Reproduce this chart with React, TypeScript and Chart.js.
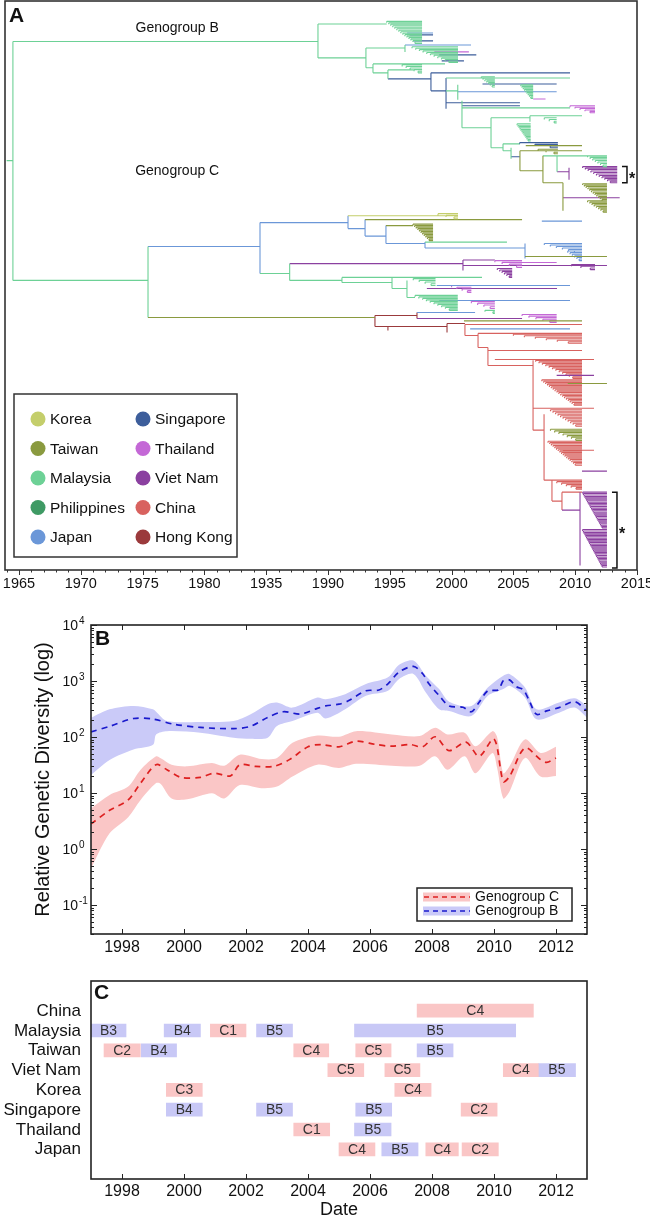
import React, { useEffect, useRef } from 'react';
import { Chart, registerables } from 'chart.js';
Chart.register(...registerables);

const FONT = '"Liberation Sans", Arial, Helvetica, sans-serif';
const INK = '#222';

// ================= Panel A : time-scaled tree =================
const countryNames = ['Korea', 'Taiwan', 'Malaysia', 'Philippines', 'Japan', 'Singapore', 'Thailand', 'Viet Nam', 'China', 'Hong Kong'];
const countryKeys = ['KR', 'TW', 'MY', 'PH', 'JP', 'SG', 'TH', 'VN', 'CN', 'HK'];
const countryColors = ['#c4ce6b', '#8a9a3f', '#6dd196', '#3f9a64', '#6b97d8', '#3d5e9b', '#c468d6', '#8b40a0', '#d8625f', '#9b3a3c'];

const treeTickYears = [1965, 1970, 1975, 1980, 1985, 1990, 1995, 2000, 2005, 2010, 2015];
const treeTickLabels = ['1965', '1970', '1975', '1980', '1935', '1990', '1995', '2000', '2005', '2010', '2015'];

// horizontal branches: [fromYear, toYear, row, country]
const treeH: [number, number, number, string][] = [
  [1964.0, 1964.51, 53.3, 'MY'], [1964.51, 1989.19, 13.5, 'MY'], [1964.51, 1975.44, 93.3, 'MY'],
  // Genogroup B
  [1989.19, 1994.75, 7.7, 'MY'], [1996.4, 1998.5, 10.7, 'JP'], [1996.6, 1998.5, 11.3, 'SG'], [1996.9, 1998.5, 13.3, 'SG'],
  [1989.19, 1993.07, 19, 'MY'], [1993.07, 1996.23, 15.7, 'MY'], [1996.23, 2001.57, 14.7, 'JP'],
  [1998.6, 2001.4, 17, 'TH'], [1999.0, 2002.0, 18, 'SG'], [1999.2, 2001.0, 20, 'SG'],
  [1993.07, 1993.64, 22.3, 'MY'], [1993.64, 1999.47, 21, 'MY'], [1993.64, 1994.85, 24, 'MY'],
  [1994.85, 1997.0, 23, 'MY'], [1994.85, 1998.33, 26, 'SG'], [1998.33, 2009.58, 24, 'SG'], [1998.33, 1999.55, 30, 'SG'],
  [1999.55, 2009.58, 25.7, 'MY'], [2002.5, 2008.5, 27.7, 'SG'], [1999.55, 2000.5, 30, 'MY'], [2000.5, 2008.5, 30.3, 'JP'],
  [2006.6, 2007.6, 32.7, 'TH'], [1999.55, 2005.53, 34, 'SG'], [2000.84, 2005.53, 35, 'SG'], [2000.84, 2009.58, 35.7, 'MY'],
  [2000.84, 2003.19, 42.3, 'MY'], [2003.19, 2006.34, 39, 'MY'], [2006.34, 2010.55, 38.3, 'MY'],
  [2003.19, 2004.16, 49, 'MY'], [2004.16, 2005.5, 47.7, 'MY'], [2006.0, 2010.55, 48.3, 'TW'],
  [2004.16, 2004.81, 50, 'MY'], [2004.81, 2005.53, 52, 'SG'], [2005.53, 2010.55, 50, 'TW'],
  [2005.53, 2007.39, 56.7, 'TW'], [2007.39, 2008.53, 51.7, 'MY'], [2008.53, 2011.0, 51.7, 'MY'],
  [2008.53, 2009.5, 57, 'VN'], [2007.39, 2009.01, 60.7, 'TW'], [2009.01, 2013.6, 65.7, 'VN'],
  // Genogroup C
  [1975.44, 1984.5, 82, 'JP'], [1984.5, 1991.62, 74, 'JP'], [1984.5, 1986.9, 91, 'MY'],
  [1986.9, 2000.92, 87.7, 'VN'], [1986.9, 1991.13, 93.3, 'MY'],
  [1991.62, 2000.52, 71.7, 'KR'], [1991.62, 1993.0, 76, 'JP'], [1993.0, 2005.7, 73, 'TW'], [2007.3, 2010.55, 73.5, 'JP'],
  [1993.0, 1994.69, 78.5, 'JP'], [1994.69, 1996.88, 75, 'TW'], [1994.69, 1997.85, 81, 'JP'],
  [1997.85, 2004.48, 80.5, 'MY'], [1997.85, 2005.94, 82.5, 'JP'], [2005.94, 2012.57, 85.3, 'TW'],
  [2000.92, 2003.5, 86.5, 'VN'], [2005.7, 2008.5, 87.3, 'TH'], [2000.92, 2012.57, 88.3, 'VN'],
  [1991.13, 2002.46, 92.3, 'MY'], [1991.13, 1995.18, 94, 'MY'], [1995.18, 1996.39, 96, 'MY'],
  [1998.0, 2008.53, 96, 'VN'], [1998.8, 2009.58, 95, 'JP'], [1999.0, 2009.58, 100, 'JP'],
  [1996.39, 1997.04, 99, 'MY'], [2001.6, 2007.56, 100, 'VN'],
  [1975.44, 1993.8, 105.7, 'TW'], [1993.8, 1997.2, 105, 'HK'], [1997.2, 2001.9, 104, 'JP'], [1997.2, 2005.7, 106, 'VN'],
  [1993.8, 1994.85, 108.7, 'HK'], [1994.85, 1999.63, 108.7, 'HK'], [1999.63, 2001.08, 107.7, 'HK'],
  [2001.0, 2010.55, 106.8, 'TW'], [2001.08, 2010.55, 108, 'CN'], [2001.5, 2009.58, 109.5, 'JP'],
  [2001.08, 2002.14, 111.7, 'CN'], [2002.14, 2010.55, 111, 'CN'], [2002.14, 2002.94, 115.7, 'CN'],
  [2002.94, 2010.55, 116.7, 'CN'], [2003.5, 2011.52, 119.7, 'CN'], [2002.94, 2006.59, 121.7, 'CN'],
  [2008.5, 2011.52, 125, 'VN'], [2009.4, 2012.57, 127.7, 'TW'], [2006.59, 2011.52, 136, 'CN'],
  [2006.59, 2007.48, 143.3, 'CN'], [2009.0, 2011.52, 150, 'CN'], [2010.55, 2012.57, 157, 'VN'],
  [2007.48, 2008.12, 160, 'CN'], [2008.12, 2008.93, 167, 'CN'], [2008.93, 2010.55, 164, 'CN'], [2008.93, 2010.39, 170, 'VN'],
];

// vertical connectors: [year, rowFrom, rowTo, country]
const treeV: [number, number, number, string][] = [
  [1964.51, 13.5, 93.3, 'MY'], [1989.19, 7.7, 19, 'MY'], [1993.07, 15.7, 22.3, 'MY'], [1996.23, 14.7, 17, 'MY'],
  [1993.64, 21, 24, 'MY'], [1994.85, 23, 26, 'MY'], [1998.33, 24, 30, 'SG'], [1999.55, 25.7, 36, 'SG'],
  [2000.5, 28, 33, 'MY'], [2000.84, 33.3, 42.3, 'MY'], [2003.19, 39, 49, 'MY'], [2006.34, 38.3, 40.3, 'MY'],
  [2004.16, 47.7, 50, 'MY'], [2004.81, 49, 52.7, 'MY'], [2005.53, 50, 56.7, 'TW'], [2007.39, 51.7, 60.7, 'TW'],
  [2008.53, 51.7, 57, 'MY'], [2009.5, 55.7, 59.7, 'VN'], [2009.01, 60.7, 70, 'TW'],
  [1975.44, 82, 105.7, 'MY'], [1984.5, 74, 91, 'JP'], [1986.9, 87.7, 93.3, 'MY'],
  [1991.62, 71.7, 76, 'JP'], [1993.0, 73, 78.5, 'JP'], [1994.69, 75, 81, 'JP'], [1997.85, 80.5, 82.5, 'JP'],
  [2005.94, 81, 86, 'JP'], [2000.92, 86.5, 90, 'VN'], [1991.13, 92.3, 94, 'MY'], [1995.18, 92.5, 96, 'MY'],
  [1996.39, 93.3, 99, 'MY'], [1993.8, 105, 108.7, 'HK'], [1997.2, 104, 106, 'HK'], [1994.85, 108.7, 110, 'HK'],
  [1999.63, 107.7, 110.7, 'HK'], [2001.08, 108, 111.7, 'CN'], [2002.14, 111, 115.7, 'CN'], [2002.94, 115.7, 121.7, 'CN'],
  [2006.59, 120, 143.3, 'CN'], [2007.48, 138, 160, 'CN'], [2008.12, 160, 167, 'CN'], [2008.93, 164, 170, 'CN'],
  [2010.39, 164, 188.5, 'VN'],
];

// dense sampled clades: [nodeYear, tipYear, rowFrom, rowTo, tips, country]
const treeFans: [number, number, number, number, number, string][] = [
  [1994.75, 1997.61, 6.8, 14.2, 16, 'MY'], [1996.8, 2000.52, 15.3, 20.5, 12, 'MY'], [1996.0, 1997.61, 21.3, 24, 6, 'MY'],
  [2002.4, 2003.5, 25.3, 28.7, 8, 'MY'], [2005.6, 2006.6, 28, 32.5, 10, 'MY'], [2009.58, 2011.6, 35, 37.3, 6, 'TH'],
  [2007.5, 2008.5, 39, 40.7, 4, 'MY'], [2005.3, 2006.4, 41, 46.7, 13, 'MY'], [2005.5, 2008.6, 47.3, 49, 4, 'SG'],
  [2007.0, 2008.6, 49.5, 51, 4, 'TW'], [2011.0, 2012.57, 51.7, 55.3, 8, 'MY'], [2010.6, 2013.4, 55.3, 60.7, 12, 'VN'],
  [2010.6, 2012.57, 61, 66.7, 13, 'TW'], [2011.0, 2012.57, 66.7, 70.5, 9, 'TW'],
  [1998.9, 2000.52, 71, 72.7, 4, 'KR'], [1996.88, 1998.5, 74.5, 80, 12, 'TW'], [2007.5, 2010.55, 81, 84, 7, 'JP'],
  [2009.4, 2010.55, 83.5, 86.7, 7, 'JP'], [2003.5, 2005.7, 86.7, 89, 5, 'TH'], [2009.7, 2011.6, 88, 89.7, 4, 'VN'],
  [2003.7, 2004.9, 89.3, 92.3, 7, 'VN'], [1996.9, 1998.7, 92.7, 95, 5, 'MY'], [2000.0, 2001.6, 95, 97.3, 5, 'TH'],
  [1997.04, 2000.5, 98.3, 103.3, 11, 'MY'], [2001.6, 2003.5, 100.3, 102.7, 5, 'TH'], [2002.7, 2003.5, 103.3, 104.3, 3, 'MY'],
  [2005.7, 2008.5, 104.7, 107.3, 6, 'TH'], [2005.0, 2010.55, 111.3, 114.3, 7, 'CN'], [2006.8, 2010.55, 120, 126, 13, 'CN'],
  [2007.3, 2010.55, 126.5, 135, 19, 'CN'], [2008.0, 2010.55, 136.5, 142, 12, 'CN'], [2008.0, 2010.55, 143, 146.7, 8, 'TW'],
  [2007.8, 2010.55, 147, 155, 18, 'CN'], [2008.12, 2010.55, 160, 163, 7, 'CN'],
  [2010.6, 2012.57, 164, 176, 26, 'VN'], [2010.6, 2012.57, 176.5, 189, 27, 'VN'],
];

const groupLabels = ['Genogroup B', 'Genogroup C'];
const groupLabelYear = [1977.8, 1977.8];
const groupLabelRow = [9, 56.7];

const bracketYear = [2014.19, 2013.38];
const bracketRowFrom = [55.3, 164];
const bracketRowTo = [60.7, 189.3];

// ================= Panel B : genetic diversity =================
const blueYears = [1997.0, 1997.6, 1998.37, 1999.0, 1999.65, 2000.53, 2001.6, 2002.15, 2002.7, 2003.2, 2003.76, 2004.3, 2004.57, 2005.0, 2005.3, 2005.87, 2006.29, 2006.58, 2006.94, 2007.4, 2007.7, 2007.9, 2008.23, 2008.55, 2009.0, 2009.27, 2009.52, 2009.8, 2010.14, 2010.3, 2010.5, 2010.72, 2010.95, 2011.14, 2011.37, 2011.7, 2012.1, 2012.6, 2013.0];
const blueMedian = [123, 155, 214, 209, 170, 148, 141, 155, 224, 282, 257, 324, 359, 385, 442, 668, 692, 891, 1445, 1820, 1349, 891, 550, 359, 339, 282, 417, 668, 692, 1012, 1047, 794, 692, 442, 254, 292, 335, 427, 292];
const blueBandYears = [1997.0, 1997.6, 1998.37, 1999.0, 1999.1, 1999.45, 2000.53, 2001.6, 2002.15, 2002.7, 2003.0, 2003.5, 2004.3, 2004.57, 2005.2, 2005.87, 2006.58, 2006.94, 2007.4, 2007.8, 2008.23, 2008.55, 2009.27, 2009.8, 2010.3, 2010.5, 2011.0, 2011.37, 2012.1, 2012.6, 2013.0];
const blueUpper = [221, 313, 359, 313, 282, 193, 186, 193, 254, 385, 412, 335, 507, 473, 582, 881, 1161, 1950, 2317, 1245, 716, 427, 359, 767, 1245, 1334, 767, 313, 412, 490, 359];
const blueLower = [21, 39, 60, 73, 111, 127, 119, 97, 93, 97, 157, 193, 272, 214, 313, 543, 668, 1084, 1334, 624, 313, 292, 237, 543, 716, 822, 507, 207, 272, 335, 221];

const redYears = [1997.0, 1997.6, 1998.2, 1998.6, 1999.1, 1999.45, 1999.9, 2000.53, 2000.97, 2001.5, 2001.8, 2002.3, 2002.9, 2003.4, 2004.0, 2004.4, 2005.0, 2005.55, 2006.2, 2006.7, 2007.3, 2007.7, 2008.1, 2008.55, 2009.1, 2009.52, 2010.0, 2010.3, 2010.5, 2011.0, 2011.5, 2011.7, 2012.0];
const redMedian = [2.8, 4.9, 7.5, 15, 32, 26, 19, 19, 22.6, 20.2, 32, 29.9, 29.9, 39.4, 66.7, 73.3, 66.7, 84.1, 73.3, 68.4, 73.3, 66.7, 101, 57.1, 80.7, 45.2, 92.7, 16, 19.7, 63.8, 39.4, 35.2, 42.2];
const redBandYears = [1997.0, 1997.6, 1998.2, 1998.6, 1999.1, 1999.25, 1999.6, 2000.1, 2000.9, 2001.3, 2001.8, 2002.5, 2003.0, 2003.5, 2004.3, 2005.0, 2005.55, 2006.7, 2007.6, 2008.1, 2008.5, 2009.05, 2009.4, 2009.95, 2010.1, 2010.3, 2010.5, 2011.0, 2011.5, 2012.0];
const redUpper = [5.3, 9.2, 13, 26, 45.2, 41.7, 32, 29.9, 34.3, 30.7, 48.4, 40.5, 42.2, 78.5, 106, 101, 127, 111, 104, 146, 111, 119, 68.4, 127, 100, 22.6, 29.9, 90.2, 51.9, 66.7];
const redLower = [0.45, 1.9, 3.7, 7.5, 15, 14.5, 8, 7.7, 9.9, 8, 13.9, 12.2, 13, 19.7, 32, 27.9, 33.1, 30.7, 30.7, 45.2, 26, 45.2, 22.6, 51.9, 28.2, 8, 10.6, 42.2, 19.7, 20.2];

const diversityExponents = [-1, 0, 1, 2, 3, 4];
const yearTicks = [1998, 2000, 2002, 2004, 2006, 2008, 2010, 2012];
const seriesNames = ['Genogroup C', 'Genogroup B'];

// ================= Panel C : circulation periods =================
const countryRows = ['China', 'Malaysia', 'Taiwan', 'Viet Nam', 'Korea', 'Singapore', 'Thailand', 'Japan'];
const periodCountry = ['China', 'Malaysia', 'Malaysia', 'Malaysia', 'Malaysia', 'Malaysia', 'Taiwan', 'Taiwan', 'Taiwan', 'Taiwan', 'Taiwan', 'Viet Nam', 'Viet Nam', 'Viet Nam', 'Viet Nam', 'Korea', 'Korea', 'Singapore', 'Singapore', 'Singapore', 'Singapore', 'Thailand', 'Thailand', 'Japan', 'Japan', 'Japan', 'Japan'];
const periodStart = [2007.52, 1997.0, 1999.36, 2000.85, 2002.34, 2005.5, 1997.42, 1998.62, 2003.54, 2005.54, 2007.52, 2004.64, 2006.48, 2010.3, 2011.43, 1999.43, 2006.8, 1999.43, 2002.34, 2005.54, 2008.94, 2003.54, 2005.5, 2005.0, 2006.38, 2007.8, 2008.97];
const periodEnd = [2011.27, 1998.13, 2000.53, 2002.0, 2003.5, 2010.7, 1998.59, 1999.76, 2004.67, 2006.68, 2008.68, 2005.8, 2007.61, 2011.43, 2012.63, 2000.59, 2007.97, 2000.59, 2003.5, 2006.7, 2010.1, 2004.7, 2006.68, 2006.16, 2007.55, 2008.85, 2010.14];
const periodLabel = ['C4', 'B3', 'B4', 'C1', 'B5', 'B5', 'C2', 'B4', 'C4', 'C5', 'B5', 'C5', 'C5', 'C4', 'B5', 'C3', 'C4', 'B4', 'B5', 'B5', 'C2', 'C1', 'B5', 'C4', 'B5', 'C4', 'C2'];

// ---------------- helpers ----------------
function colorOf(key: string) {
  return countryColors[countryKeys.indexOf(key)];
}

function buildTreeDatasets() {
  const pts: Record<string, any[]> = {};
  const seg = (c: string, x0: number, y0: number, x1: number, y1: number) => {
    (pts[c] = pts[c] || []).push({ x: x0, y: y0 }, { x: x1, y: y1 }, { x: x1, y: null });
  };
  treeH.forEach(([a, b, r, c]) => seg(c, a, r, b, r));
  treeV.forEach(([x, r0, r1, c]) => seg(c, x, r0, x, r1));
  treeFans.forEach(([x0, x1, r0, r1, n, c]) => {
    const rows = Array.from({ length: n }, (_, k) => r0 + ((r1 - r0) * k) / (n - 1));
    const starts = rows.map((_, k) => x0 + ((x1 - x0) * 0.8 * Math.min(k, n - 2)) / Math.max(n - 2, 1));
    for (let k = 0; k < n; k++) {
      seg(c, starts[k], rows[k], x1, rows[k]);
      if (k < n - 1) seg(c, starts[k], rows[k], starts[k], rows[k + 1]);
    }
  });
  return countryKeys
    .filter((k) => pts[k])
    .map((k) => ({
      data: pts[k],
      borderColor: colorOf(k),
      borderWidth: 1.1,
      pointRadius: 0,
      fill: false,
      spanGaps: false,
      tension: 0,
    }));
}

const treeDecor = {
  id: 'treeDecor',
  afterDraw(chart: any) {
    const { ctx, chartArea: a, scales } = chart;
    const xs = scales.x, ys = scales.y;
    ctx.save();
    ctx.strokeStyle = '#333';
    ctx.lineWidth = 1.6;
    ctx.strokeRect(a.left, a.top, a.right - a.left, a.bottom - a.top);
    ctx.lineWidth = 1;
    for (let yr = 1964; yr <= 2015; yr++) {
      const px = Math.round(xs.getPixelForValue(yr)) + 0.5;
      const len = yr % 5 === 0 ? 5 : 2.5;
      ctx.beginPath();
      ctx.moveTo(px, a.bottom);
      ctx.lineTo(px, a.bottom + len);
      ctx.stroke();
    }
    ctx.fillStyle = '#111';
    ctx.font = `14.5px ${FONT}`;
    ctx.textAlign = 'center';
    ctx.textBaseline = 'middle';
    treeTickYears.forEach((yr, i) => ctx.fillText(treeTickLabels[i], xs.getPixelForValue(yr), a.bottom + 14));
    ctx.font = `bold 21px ${FONT}`;
    ctx.textAlign = 'left';
    ctx.textBaseline = 'top';
    ctx.fillText('A', a.left + 4, a.top + 5);
    ctx.font = `14px ${FONT}`;
    ctx.textAlign = 'center';
    ctx.textBaseline = 'middle';
    groupLabels.forEach((t, i) => ctx.fillText(t, xs.getPixelForValue(groupLabelYear[i]), ys.getPixelForValue(groupLabelRow[i])));
    ctx.strokeStyle = '#111';
    ctx.lineWidth = 1.5;
    bracketYear.forEach((yr, i) => {
      const px = xs.getPixelForValue(yr);
      const t = ys.getPixelForValue(bracketRowFrom[i]);
      const b = ys.getPixelForValue(bracketRowTo[i]);
      ctx.beginPath();
      ctx.moveTo(px - 5, t);
      ctx.lineTo(px, t);
      ctx.lineTo(px, b);
      ctx.lineTo(px - 5, b);
      ctx.stroke();
      ctx.font = `bold 16px ${FONT}`;
      ctx.textAlign = 'left';
      ctx.textBaseline = 'alphabetic';
      ctx.fillStyle = '#111';
      ctx.fillText('*', px + 2, (t + b) / 2 + 9);
    });
    const lx = a.left + 9, ly = a.bottom - 13 - 163, lw = 223, lh = 163;
    ctx.fillStyle = '#fff';
    ctx.fillRect(lx, ly, lw, lh);
    ctx.strokeStyle = '#333';
    ctx.lineWidth = 1.5;
    ctx.strokeRect(lx, ly, lw, lh);
    ctx.font = `15.5px ${FONT}`;
    ctx.textAlign = 'left';
    ctx.textBaseline = 'middle';
    countryNames.forEach((name, i) => {
      const col = i < 5 ? 0 : 1;
      const row = i % 5;
      const cx = lx + 24 + col * 105;
      const cy = ly + 25 + row * 29.5;
      ctx.fillStyle = countryColors[i];
      ctx.beginPath();
      ctx.arc(cx, cy, 7.5, 0, Math.PI * 2);
      ctx.fill();
      ctx.fillStyle = '#111';
      ctx.fillText(name, cx + 12, cy + 1);
    });
    ctx.restore();
  },
};

function logTicksDraw(ctx: any, ys: any, a: any) {
  for (let e = -2; e <= 4; e++) {
    for (let m = 1; m <= 9; m++) {
      const v = m * Math.pow(10, e);
      const py = ys.getPixelForValue(v);
      if (py < a.top - 0.5 || py > a.bottom + 0.5) continue;
      const len = m === 1 ? 6 : 3;
      const y = Math.round(py) + 0.5;
      ctx.beginPath();
      ctx.moveTo(a.left, y);
      ctx.lineTo(a.left + len, y);
      ctx.moveTo(a.right, y);
      ctx.lineTo(a.right - len, y);
      ctx.stroke();
    }
  }
}

const diversityDecor = {
  id: 'diversityDecor',
  afterDraw(chart: any) {
    const { ctx, chartArea: a, scales } = chart;
    const xs = scales.x, ys = scales.y;
    ctx.save();
    ctx.strokeStyle = INK;
    ctx.lineWidth = 1;
    logTicksDraw(ctx, ys, a);
    yearTicks.forEach((yr) => {
      const px = Math.round(xs.getPixelForValue(yr)) + 0.5;
      ctx.beginPath();
      ctx.moveTo(px, a.bottom);
      ctx.lineTo(px, a.bottom - 5);
      ctx.moveTo(px, a.top);
      ctx.lineTo(px, a.top + 5);
      ctx.stroke();
    });
    ctx.lineWidth = 1.6;
    ctx.strokeRect(a.left, a.top, a.right - a.left, a.bottom - a.top);
    ctx.fillStyle = '#111';
    ctx.font = `16px ${FONT}`;
    ctx.textAlign = 'center';
    ctx.textBaseline = 'middle';
    yearTicks.forEach((yr) => ctx.fillText(String(yr), xs.getPixelForValue(yr), a.bottom + 14));
    diversityExponents.forEach((e) => {
      const py = ys.getPixelForValue(Math.pow(10, e));
      ctx.font = `14px ${FONT}`;
      ctx.textAlign = 'right';
      ctx.textBaseline = 'alphabetic';
      ctx.fillText('10', a.left - 13, py + 5);
      ctx.font = `10px ${FONT}`;
      ctx.textAlign = 'left';
      ctx.fillText(String(e), a.left - 12, py - 1);
    });
    ctx.save();
    ctx.translate(43, (a.top + a.bottom) / 2);
    ctx.rotate(-Math.PI / 2);
    ctx.font = `20px ${FONT}`;
    ctx.textAlign = 'center';
    ctx.textBaseline = 'middle';
    ctx.fillText('Relative Genetic Diversity (log)', 0, 0);
    ctx.restore();
    ctx.font = `bold 21px ${FONT}`;
    ctx.textAlign = 'left';
    ctx.textBaseline = 'top';
    ctx.fillText('B', a.left + 4, a.top + 4);
    const lw = 155, lh = 33;
    const lx = a.right - 15 - lw, ly = a.bottom - 13 - lh;
    ctx.fillStyle = '#fff';
    ctx.fillRect(lx, ly, lw, lh);
    ctx.lineWidth = 1.5;
    ctx.strokeStyle = INK;
    ctx.strokeRect(lx, ly, lw, lh);
    const sw = [['#fac6c6', '#dd2020'], ['#cacaf8', '#1a1acc']];
    seriesNames.forEach((name, i) => {
      const cy = ly + 9 + i * 14;
      ctx.fillStyle = sw[i][0];
      ctx.fillRect(lx + 6, cy - 4.5, 47, 9);
      ctx.strokeStyle = sw[i][1];
      ctx.lineWidth = 1.5;
      ctx.setLineDash([5, 4]);
      ctx.beginPath();
      ctx.moveTo(lx + 7, cy);
      ctx.lineTo(lx + 53, cy);
      ctx.stroke();
      ctx.setLineDash([]);
      ctx.fillStyle = '#111';
      ctx.font = `14px ${FONT}`;
      ctx.textAlign = 'left';
      ctx.textBaseline = 'middle';
      ctx.fillText(name, lx + 58, cy + 0.5);
    });
    ctx.restore();
  },
};

const periodDecor = {
  id: 'periodDecor',
  afterDatasetsDraw(chart: any) {
    const { ctx } = chart;
    ctx.save();
    ctx.fillStyle = '#333';
    ctx.font = `14px ${FONT}`;
    ctx.textAlign = 'center';
    ctx.textBaseline = 'middle';
    chart.data.datasets.forEach((ds: any, di: number) => {
      const meta = chart.getDatasetMeta(di);
      meta.data.forEach((el: any, i: number) => {
        ctx.fillText(ds.labelsText[i], (el.x + el.base) / 2, el.y + 0.5);
      });
    });
    ctx.restore();
  },
  afterDraw(chart: any) {
    const { ctx, chartArea: a, scales } = chart;
    const xs = scales.x, ys = scales.y;
    ctx.save();
    ctx.strokeStyle = INK;
    ctx.lineWidth = 1;
    yearTicks.forEach((yr) => {
      const px = Math.round(xs.getPixelForValue(yr)) + 0.5;
      ctx.beginPath();
      ctx.moveTo(px, a.bottom);
      ctx.lineTo(px, a.bottom - 5);
      ctx.stroke();
    });
    ctx.lineWidth = 1.6;
    ctx.strokeRect(a.left, a.top, a.right - a.left, a.bottom - a.top);
    ctx.fillStyle = '#111';
    ctx.font = `16px ${FONT}`;
    ctx.textAlign = 'center';
    ctx.textBaseline = 'middle';
    yearTicks.forEach((yr) => ctx.fillText(String(yr), xs.getPixelForValue(yr), a.bottom + 13));
    ctx.font = `18px ${FONT}`;
    ctx.fillText('Date', (a.left + a.right) / 2, a.bottom + 31);
    ctx.font = `17px ${FONT}`;
    ctx.textAlign = 'right';
    countryRows.forEach((c) => {
      const idx = ys.getLabels().indexOf(c);
      ctx.fillText(c, a.left - 10, ys.getPixelForValue(idx) + 0.5);
    });
    ctx.font = `bold 21px ${FONT}`;
    ctx.textAlign = 'left';
    ctx.textBaseline = 'top';
    ctx.fillText('C', a.left + 3, a.top + 2);
    ctx.restore();
  },
};

function makeTree(canvas: HTMLCanvasElement) {
  return new Chart(canvas, {
    type: 'line',
    data: { datasets: buildTreeDatasets() as any },
    options: {
      animation: false,
      responsive: false,
      devicePixelRatio: 1,
      layout: { padding: { left: 5, right: 13, top: 1, bottom: 30 } },
      scales: {
        x: { type: 'linear', min: 1963.87, max: 2015, display: false },
        y: { type: 'linear', min: 0, max: 190, reverse: true, display: false },
      },
      plugins: { legend: { display: false }, tooltip: { enabled: false } },
    },
    plugins: [treeDecor],
  });
}

function xy(xsArr: number[], ysArr: number[]) {
  return xsArr.map((x, i) => ({ x, y: ysArr[i] }));
}

function makeDiversity(canvas: HTMLCanvasElement) {
  const lineDs = (data: any, color: string) => ({
    data, borderColor: color, borderWidth: 1.7, borderDash: [6, 5], pointRadius: 0, fill: false, tension: 0.3,
  });
  const bandDs = (data: any, color: string, fill: any) => ({
    data, borderWidth: 0, borderColor: 'rgba(0,0,0,0)', backgroundColor: color, pointRadius: 0, fill, tension: 0.3,
  });
  return new Chart(canvas, {
    type: 'line',
    data: {
      datasets: [
        lineDs(xy(redYears, redMedian), '#dd2020'),
        lineDs(xy(blueYears, blueMedian), '#1a1acc'),
        bandDs(xy(redBandYears, redUpper), '#fac6c6', '+1'),
        bandDs(xy(redBandYears, redLower), '#fac6c6', false),
        bandDs(xy(blueBandYears, blueUpper), '#cacaf8', '+1'),
        bandDs(xy(blueBandYears, blueLower), '#cacaf8', false),
      ] as any,
    },
    options: {
      animation: false,
      responsive: false,
      devicePixelRatio: 1,
      layout: { padding: { left: 91, right: 63, top: 25, bottom: 26 } },
      scales: {
        x: { type: 'linear', min: 1997, max: 2013, display: false },
        y: { type: 'logarithmic', min: 0.0303, max: 10000, display: false },
      },
      plugins: { legend: { display: false }, tooltip: { enabled: false } },
    },
    plugins: [diversityDecor],
  });
}

function makePeriods(canvas: HTMLCanvasElement) {
  const catLabels = ['', ...countryRows, ''];
  const build = (prefix: string, color: string) => {
    const idx = periodLabel.map((l, i) => (l[0] === prefix ? i : -1)).filter((i) => i >= 0);
    return {
      data: idx.map((i) => ({ x: [periodStart[i], periodEnd[i]], y: periodCountry[i] })),
      labelsText: idx.map((i) => periodLabel[i]),
      backgroundColor: color,
      borderWidth: 0,
      barThickness: 13,
      grouped: false,
    };
  };
  return new Chart(canvas, {
    type: 'bar',
    data: { labels: catLabels, datasets: [build('C', '#fac6c6'), build('B', '#c8c8f6')] as any },
    options: {
      indexAxis: 'y',
      animation: false,
      responsive: false,
      devicePixelRatio: 1,
      layout: { padding: { left: 91, right: 63, top: 21, bottom: 39 } },
      scales: {
        x: { type: 'linear', min: 1997, max: 2013, display: false },
        y: { type: 'category', labels: catLabels, offset: true, display: false },
      },
      plugins: { legend: { display: false }, tooltip: { enabled: false } },
    },
    plugins: [periodDecor],
  });
}

export default function App() {
  const refA = useRef<HTMLCanvasElement>(null);
  const refB = useRef<HTMLCanvasElement>(null);
  const refC = useRef<HTMLCanvasElement>(null);
  useEffect(() => {
    document.body.style.margin = '0';
    const charts = [makeTree(refA.current!), makeDiversity(refB.current!), makePeriods(refC.current!)];
    return () => charts.forEach((c) => c.destroy());
  }, []);
  const abs = (top: number, h: number) => ({ position: 'absolute' as const, left: 0, top, width: 650, height: h, display: 'block' });
  return (
    <div style={{ position: 'relative', width: 650, height: 1218, background: '#fff', overflow: 'hidden' }}>
      <canvas ref={refA} width={650} height={600} style={abs(0, 600)} />
      <canvas ref={refB} width={650} height={360} style={abs(600, 360)} />
      <canvas ref={refC} width={650} height={258} style={abs(960, 258)} />
    </div>
  );
}
